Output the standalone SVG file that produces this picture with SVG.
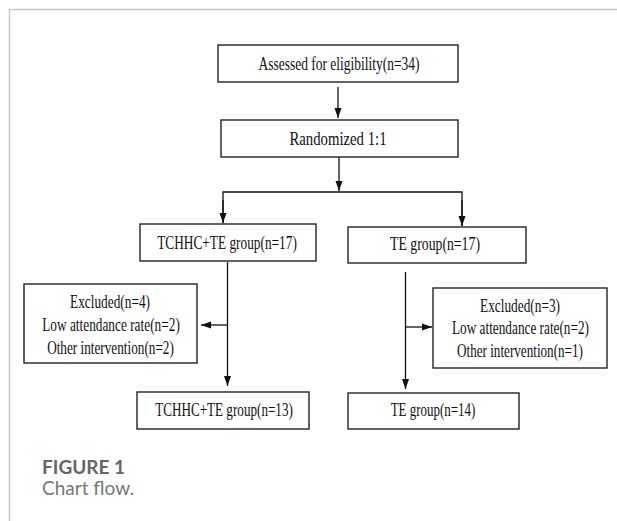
<svg xmlns="http://www.w3.org/2000/svg" width="617" height="521" viewBox="0 0 617 521">
<defs>
<marker id="ah" markerUnits="userSpaceOnUse" markerWidth="10" markerHeight="10" viewBox="0 0 10 10" refX="10" refY="5" orient="auto">
<path d="M0,1.5 L10,5 L0,8.5 Z" fill="#111"/>
</marker>
<style>
.box{fill:#fff;stroke:#222;stroke-width:1.4}
.t{font-family:"Liberation Serif","Times New Roman",serif;font-size:18px;fill:#111;text-anchor:middle}
.c{stroke:#111;stroke-width:1.3;fill:none}
.cap1{font-family:Lato,"Open Sans",sans-serif;font-size:19px;font-weight:bold;fill:#666}
.cap2{font-family:Lato,"Open Sans",sans-serif;font-size:19px;fill:#777}
</style>
</defs>
<rect width="617" height="521" fill="#fff"/>
<path d="M9.5,521 V9.5 H617" stroke="#c8c8c8" stroke-width="1.5" fill="none"/>

<g id="connectors">
<line class="c" x1="338" y1="87" x2="338" y2="118" marker-end="url(#ah)"/>
<line class="c" x1="339" y1="157" x2="339" y2="191" marker-end="url(#ah)"/>
<polyline class="c" points="223,223 223,192 462,192 462,226"/>
<line class="c" x1="223" y1="200" x2="223" y2="223" marker-end="url(#ah)"/>
<line class="c" x1="462" y1="200" x2="462" y2="226" marker-end="url(#ah)"/>
<line class="c" x1="227.5" y1="262" x2="227.5" y2="386" marker-end="url(#ah)"/>
<line class="c" x1="227.5" y1="325" x2="201" y2="325" marker-end="url(#ah)"/>
<line class="c" x1="405.5" y1="272" x2="405.5" y2="389" marker-end="url(#ah)"/>
<line class="c" x1="405.5" y1="327" x2="432" y2="327" marker-end="url(#ah)"/>
</g>

<g id="assessed">
<rect class="box" x="218" y="45" width="240" height="37"/>
<text class="t" transform="translate(339,70) scale(0.75,1)">Assessed for eligibility(n=34)</text>
</g>
<g id="randomized">
<rect class="box" x="221" y="120" width="237" height="37"/>
<text class="t" transform="translate(338,145) scale(0.82,1)">Randomized 1:1</text>
</g>
<g id="tchhc17">
<rect class="box" x="140" y="224" width="176" height="37"/>
<text class="t" transform="translate(227,249) scale(0.74,1)">TCHHC+TE group(n=17)</text>
</g>
<g id="te17">
<rect class="box" x="348" y="227" width="178" height="36"/>
<text class="t" transform="translate(435,250) scale(0.765,1)">TE group(n=17)</text>
</g>
<g id="excl-left">
<rect class="box" x="24" y="284" width="173" height="79"/>
<text class="t" transform="translate(110,308) scale(0.74,1)">Excluded(n=4)</text>
<text class="t" transform="translate(111,331) scale(0.74,1)">Low attendance rate(n=2)</text>
<text class="t" transform="translate(110.5,354) scale(0.735,1)">Other intervention(n=2)</text>
</g>
<g id="excl-right">
<rect class="box" x="433" y="288" width="174" height="80"/>
<text class="t" transform="translate(520,312) scale(0.74,1)">Excluded(n=3)</text>
<text class="t" transform="translate(520.5,334) scale(0.737,1)">Low attendance rate(n=2)</text>
<text class="t" transform="translate(520,357) scale(0.73,1)">Other intervention(n=1)</text>
</g>
<g id="tchhc13">
<rect class="box" x="137" y="392" width="172" height="37"/>
<text class="t" transform="translate(224,416) scale(0.73,1)">TCHHC+TE group(n=13)</text>
</g>
<g id="te14">
<rect class="box" x="348" y="393" width="171" height="36"/>
<text class="t" transform="translate(433,416) scale(0.72,1)">TE group(n=14)</text>
</g>

<g id="caption">
<text class="cap1" x="42" y="474">FIGURE 1</text>
<text class="cap2" x="42" y="495">Chart flow.</text>
</g>
</svg>
